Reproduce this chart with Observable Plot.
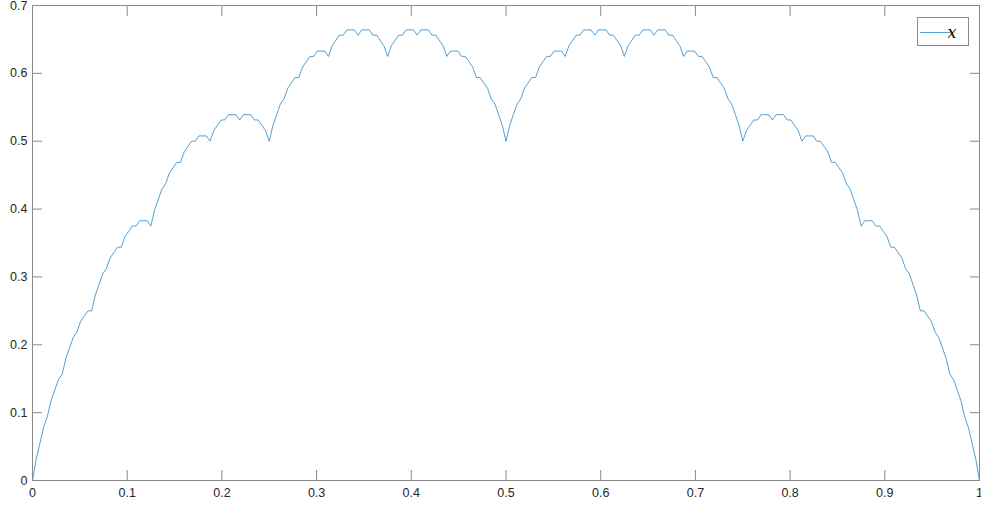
<!DOCTYPE html>
<html>
<head>
<meta charset="utf-8">
<script src="https://cdn.jsdelivr.net/npm/d3@7"></script>
<script src="https://cdn.jsdelivr.net/npm/@observablehq/plot@0.6"></script>
<style>
  html, body { margin: 0; padding: 0; background: #fff; }
  #chart { position: relative; width: 981px; height: 505px; }
</style>
</head>
<body>
<div id="chart"></div>
<script>
const xs = [
  0, 0.0039, 0.0078, 0.0117, 0.0156, 0.0195, 0.0234, 0.0273, 0.0313, 0.0352, 0.0391, 0.043, 0.0469, 0.0508, 0.0547, 0.0586,
  0.0625, 0.0664, 0.0703, 0.0742, 0.0781, 0.082, 0.0859, 0.0898, 0.0938, 0.0977, 0.1016, 0.1055, 0.1094, 0.1133, 0.1172, 0.1211,
  0.125, 0.1289, 0.1328, 0.1367, 0.1406, 0.1445, 0.1484, 0.1523, 0.1563, 0.1602, 0.1641, 0.168, 0.1719, 0.1758, 0.1797, 0.1836,
  0.1875, 0.1914, 0.1953, 0.1992, 0.2031, 0.207, 0.2109, 0.2148, 0.2188, 0.2227, 0.2266, 0.2305, 0.2344, 0.2383, 0.2422, 0.2461,
  0.25, 0.2539, 0.2578, 0.2617, 0.2656, 0.2695, 0.2734, 0.2773, 0.2813, 0.2852, 0.2891, 0.293, 0.2969, 0.3008, 0.3047, 0.3086,
  0.3125, 0.3164, 0.3203, 0.3242, 0.3281, 0.332, 0.3359, 0.3398, 0.3438, 0.3477, 0.3516, 0.3555, 0.3594, 0.3633, 0.3672, 0.3711,
  0.375, 0.3789, 0.3828, 0.3867, 0.3906, 0.3945, 0.3984, 0.4023, 0.4063, 0.4102, 0.4141, 0.418, 0.4219, 0.4258, 0.4297, 0.4336,
  0.4375, 0.4414, 0.4453, 0.4492, 0.4531, 0.457, 0.4609, 0.4648, 0.4688, 0.4727, 0.4766, 0.4805, 0.4844, 0.4883, 0.4922, 0.4961,
  0.5, 0.5039, 0.5078, 0.5117, 0.5156, 0.5195, 0.5234, 0.5273, 0.5313, 0.5352, 0.5391, 0.543, 0.5469, 0.5508, 0.5547, 0.5586,
  0.5625, 0.5664, 0.5703, 0.5742, 0.5781, 0.582, 0.5859, 0.5898, 0.5938, 0.5977, 0.6016, 0.6055, 0.6094, 0.6133, 0.6172, 0.6211,
  0.625, 0.6289, 0.6328, 0.6367, 0.6406, 0.6445, 0.6484, 0.6523, 0.6563, 0.6602, 0.6641, 0.668, 0.6719, 0.6758, 0.6797, 0.6836,
  0.6875, 0.6914, 0.6953, 0.6992, 0.7031, 0.707, 0.7109, 0.7148, 0.7188, 0.7227, 0.7266, 0.7305, 0.7344, 0.7383, 0.7422, 0.7461,
  0.75, 0.7539, 0.7578, 0.7617, 0.7656, 0.7695, 0.7734, 0.7773, 0.7813, 0.7852, 0.7891, 0.793, 0.7969, 0.8008, 0.8047, 0.8086,
  0.8125, 0.8164, 0.8203, 0.8242, 0.8281, 0.832, 0.8359, 0.8398, 0.8438, 0.8477, 0.8516, 0.8555, 0.8594, 0.8633, 0.8672, 0.8711,
  0.875, 0.8789, 0.8828, 0.8867, 0.8906, 0.8945, 0.8984, 0.9023, 0.9063, 0.9102, 0.9141, 0.918, 0.9219, 0.9258, 0.9297, 0.9336,
  0.9375, 0.9414, 0.9453, 0.9492, 0.9531, 0.957, 0.9609, 0.9648, 0.9688, 0.9727, 0.9766, 0.9805, 0.9844, 0.9883, 0.9922, 0.9961,
  1
];
const ys = [
  0, 0.0313, 0.0547, 0.0781, 0.0938, 0.1172, 0.1328, 0.1484,
  0.1563, 0.1797, 0.1953, 0.2109, 0.2188, 0.2344, 0.2422, 0.25,
  0.25, 0.2734, 0.2891, 0.3047, 0.3125, 0.3281, 0.3359, 0.3438,
  0.3438, 0.3594, 0.3672, 0.375, 0.375, 0.3828, 0.3828, 0.3828,
  0.375, 0.3984, 0.4141, 0.4297, 0.4375, 0.4531, 0.4609, 0.4688,
  0.4688, 0.4844, 0.4922, 0.5, 0.5, 0.5078, 0.5078, 0.5078,
  0.5, 0.5156, 0.5234, 0.5313, 0.5313, 0.5391, 0.5391, 0.5391,
  0.5313, 0.5391, 0.5391, 0.5391, 0.5313, 0.5313, 0.5234, 0.5156,
  0.5, 0.5234, 0.5391, 0.5547, 0.5625, 0.5781, 0.5859, 0.5938,
  0.5938, 0.6094, 0.6172, 0.625, 0.625, 0.6328, 0.6328, 0.6328,
  0.625, 0.6406, 0.6484, 0.6563, 0.6563, 0.6641, 0.6641, 0.6641,
  0.6563, 0.6641, 0.6641, 0.6641, 0.6563, 0.6563, 0.6484, 0.6406,
  0.625, 0.6406, 0.6484, 0.6563, 0.6563, 0.6641, 0.6641, 0.6641,
  0.6563, 0.6641, 0.6641, 0.6641, 0.6563, 0.6563, 0.6484, 0.6406,
  0.625, 0.6328, 0.6328, 0.6328, 0.625, 0.625, 0.6172, 0.6094,
  0.5938, 0.5938, 0.5859, 0.5781, 0.5625, 0.5547, 0.5391, 0.5234,
  0.5,
  0.5234, 0.5391, 0.5547, 0.5625, 0.5781, 0.5859, 0.5938, 0.5938,
  0.6094, 0.6172, 0.625, 0.625, 0.6328, 0.6328, 0.6328, 0.625,
  0.6406, 0.6484, 0.6563, 0.6563, 0.6641, 0.6641, 0.6641, 0.6563,
  0.6641, 0.6641, 0.6641, 0.6563, 0.6563, 0.6484, 0.6406, 0.625,
  0.6406, 0.6484, 0.6563, 0.6563, 0.6641, 0.6641, 0.6641, 0.6563,
  0.6641, 0.6641, 0.6641, 0.6563, 0.6563, 0.6484, 0.6406, 0.625,
  0.6328, 0.6328, 0.6328, 0.625, 0.625, 0.6172, 0.6094, 0.5938,
  0.5938, 0.5859, 0.5781, 0.5625, 0.5547, 0.5391, 0.5234, 0.5,
  0.5156, 0.5234, 0.5313, 0.5313, 0.5391, 0.5391, 0.5391, 0.5313,
  0.5391, 0.5391, 0.5391, 0.5313, 0.5313, 0.5234, 0.5156, 0.5,
  0.5078, 0.5078, 0.5078, 0.5, 0.5, 0.4922, 0.4844, 0.4688,
  0.4688, 0.4609, 0.4531, 0.4375, 0.4297, 0.4141, 0.3984, 0.375,
  0.3828, 0.3828, 0.3828, 0.375, 0.375, 0.3672, 0.3594, 0.3438,
  0.3438, 0.3359, 0.3281, 0.3125, 0.3047, 0.2891, 0.2734, 0.25,
  0.25, 0.2422, 0.2344, 0.2188, 0.2109, 0.1953, 0.1797, 0.1563,
  0.1484, 0.1328, 0.1172, 0.0938, 0.0781, 0.0547, 0.0313, 0
];
const xTicks = [0, 0.1, 0.2, 0.3, 0.4, 0.5, 0.6, 0.7, 0.8, 0.9, 1];
const xTickLabels = ["0", "0.1", "0.2", "0.3", "0.4", "0.5", "0.6", "0.7", "0.8", "0.9", "1"];
const yTicks = [0, 0.1, 0.2, 0.3, 0.4, 0.5, 0.6, 0.7];
const yTickLabels = ["0", "0.1", "0.2", "0.3", "0.4", "0.5", "0.6", "0.7"];
const seriesName = "x";

const data = xs.map((x, i) => ({x, y: ys[i]}));
const axisColor = "#8a8a8a";
const textColor = "#262626";
const lineColor = "#0072BD";

const chart = Plot.plot({
  width: 981,
  height: 505,
  marginLeft: 32,
  marginRight: 2,
  marginTop: 5,
  marginBottom: 25,
  style: {fontFamily: "'Liberation Sans', Arial, Helvetica, sans-serif", fontSize: "12.5px", color: textColor, background: "#fff"},
  x: {domain: [0, 1], label: null},
  y: {domain: [0, 0.7], label: null},
  marks: [
    Plot.line(data, {x: "x", y: "y", stroke: lineColor, strokeWidth: 0.8, strokeOpacity: 0.85}),
    Plot.frame({stroke: axisColor}),
    Plot.axisX(xTicks, {anchor: "bottom", tickSize: -10, tickPadding: 18, stroke: axisColor, fill: textColor,
      tickFormat: (d) => xTickLabels[xTicks.indexOf(d)], label: null}),
    Plot.axisX(xTicks, {anchor: "top", tickSize: -10, stroke: axisColor, fill: "none", label: null}),
    Plot.axisY(yTicks, {anchor: "left", tickSize: -10, tickPadding: 15, stroke: axisColor, fill: textColor,
      tickFormat: (d) => yTickLabels[yTicks.indexOf(d)], label: null}),
    Plot.axisY(yTicks, {anchor: "right", tickSize: -10, stroke: axisColor, fill: "none", label: null})
  ]
});
document.getElementById("chart").appendChild(chart);

// legend (top-right, inside the axes box)
const svg = d3.select(chart);
const lg = svg.append("g").attr("class", "legend");
lg.append("rect").attr("x", 917.5).attr("y", 17.5).attr("width", 51).attr("height", 28)
  .attr("fill", "#fff").attr("stroke", axisColor).attr("stroke-width", 1);
lg.append("line").attr("x1", 920).attr("x2", 950).attr("y1", 32.5).attr("y2", 32.5)
  .attr("stroke", lineColor).attr("stroke-width", 0.8).attr("stroke-opacity", 0.85);
lg.append("text").attr("x", 952).attr("y", 37.5).text(seriesName)
  .attr("fill", "#000").style("font-family", "'DejaVu Serif', 'Liberation Serif', serif")
  .style("font-style", "italic").style("font-size", "16px");
</script>
</body>
</html>
